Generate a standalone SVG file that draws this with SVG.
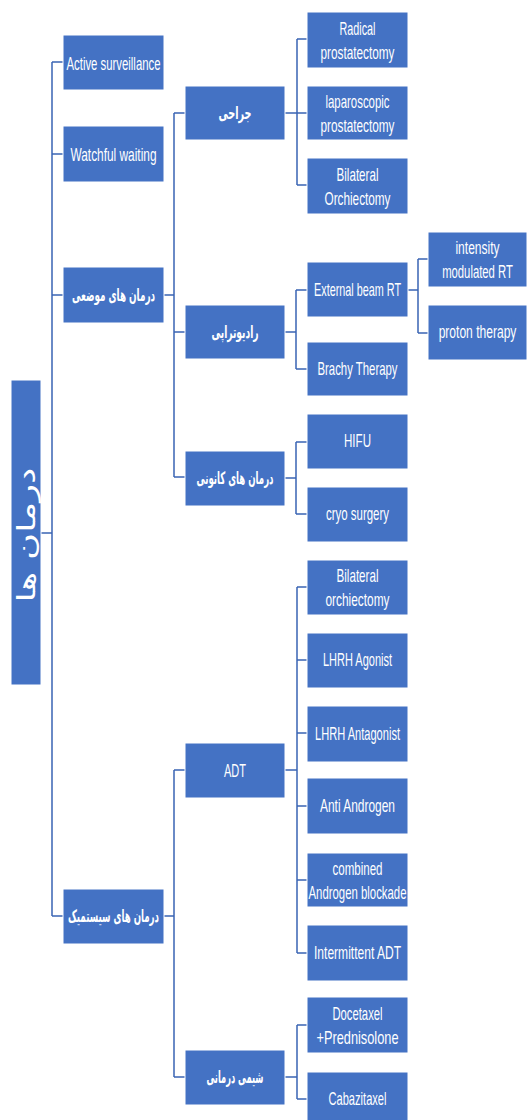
<svg xmlns="http://www.w3.org/2000/svg" width="529" height="1120" viewBox="0 0 529 1120">
<style>
.box{fill:#4472C4;stroke:#ffffff;stroke-width:1}
.t{font-family:"Liberation Sans Narrow","Liberation Sans",Arial,sans-serif;font-size:18.5px;fill:#ffffff;text-anchor:middle}
.ar{font-family:"DejaVu Sans",sans-serif;font-size:17px;font-weight:bold;fill:#ffffff;text-anchor:middle}
.c{stroke:#3A64B4;stroke-width:1.5;fill:none}
</style>
<rect width="529" height="1120" fill="#ffffff"/>
<g id="connectors" class="c">
<path d="M41 533H52M52 62V916M52 62H64M52 154H64M52 295H64M52 916H64"/>
<path d="M163 295H174M174 113V477M174 113H185M174 332H185M174 477H185"/>
<path d="M285 113H297M297 39V185M297 39H307M297 113H307M297 185H307"/>
<path d="M285 332H296M296 290V369M296 290H307M296 369H307"/>
<path d="M408 290H418M418 259V333M418 259H428M418 333H428"/>
<path d="M285 478H296M296 442V514M296 442H307M296 514H307"/>
<path d="M163 916H174M174 770V1077M174 770H185M174 1077H185"/>
<path d="M285 770H297M297 587V953M297 587H307M297 660H307M297 733H307M297 806H307M297 880H307M297 953H307"/>
<path d="M285 1077H297M297 1025V1099M297 1025H307M297 1099H307"/>
</g>
<g id="root"><rect class="box" x="11" y="380" width="30" height="305"/><text class="ar" style="font-size:25px;font-weight:normal" transform="translate(26,535) rotate(-90)" dominant-baseline="central" textLength="135" lengthAdjust="spacingAndGlyphs">درمان ها</text></g>
<g id="active"><rect class="box" x="63" y="35" width="101" height="55"/><text class="t" x="113.5" y="69.5" textLength="94" lengthAdjust="spacingAndGlyphs">Active surveillance</text></g>
<g id="watchful"><rect class="box" x="63" y="126" width="101" height="56"/><text class="t" x="113.5" y="160.5" textLength="86" lengthAdjust="spacingAndGlyphs">Watchful waiting</text></g>
<g id="local"><rect class="box" x="63" y="267" width="101" height="56"/><text class="ar" x="113.5" y="301" textLength="83" lengthAdjust="spacingAndGlyphs">درمان های موضعی</text></g>
<g id="systemic"><rect class="box" x="63" y="889" width="101" height="55"/><text class="ar" x="113.5" y="922" textLength="91" lengthAdjust="spacingAndGlyphs">درمان های سیستمیک</text></g>
<g id="surgery"><rect class="box" x="185" y="86" width="100" height="54"/><text class="ar" x="235" y="119" textLength="33" lengthAdjust="spacingAndGlyphs">جراحی</text></g>
<g id="radiotherapy"><rect class="box" x="185" y="305" width="100" height="54"/><text class="ar" x="235" y="338" textLength="47" lengthAdjust="spacingAndGlyphs">رادیوتراپی</text></g>
<g id="focal"><rect class="box" x="185" y="451" width="100" height="55"/><text class="ar" x="235" y="484" textLength="77" lengthAdjust="spacingAndGlyphs">درمان های کانونی</text></g>
<g id="adt"><rect class="box" x="185" y="743" width="100" height="55"/><text class="t" x="235" y="777" textLength="22" lengthAdjust="spacingAndGlyphs">ADT</text></g>
<g id="chemo"><rect class="box" x="185" y="1050" width="100" height="55"/><text class="ar" x="235" y="1083" textLength="57" lengthAdjust="spacingAndGlyphs">شیمی درمانی</text></g>
<g id="radical"><rect class="box" x="307" y="12" width="101" height="56"/><text class="t" x="357.5" y="35" textLength="36" lengthAdjust="spacingAndGlyphs">Radical</text><text class="t" x="357.5" y="59" textLength="74" lengthAdjust="spacingAndGlyphs">prostatectomy</text></g>
<g id="laparoscopic"><rect class="box" x="307" y="86" width="101" height="54"/><text class="t" x="357.5" y="108" textLength="64" lengthAdjust="spacingAndGlyphs">laparoscopic</text><text class="t" x="357.5" y="132" textLength="74" lengthAdjust="spacingAndGlyphs">prostatectomy</text></g>
<g id="bilateral1"><rect class="box" x="307" y="158" width="101" height="56"/><text class="t" x="357.5" y="181" textLength="42" lengthAdjust="spacingAndGlyphs">Bilateral</text><text class="t" x="357.5" y="205" textLength="66" lengthAdjust="spacingAndGlyphs">Orchiectomy</text></g>
<g id="external"><rect class="box" x="307" y="262" width="101" height="55"/><text class="t" x="357.5" y="296" textLength="87" lengthAdjust="spacingAndGlyphs">External beam RT</text></g>
<g id="brachy"><rect class="box" x="307" y="342" width="101" height="54"/><text class="t" x="357.5" y="375" textLength="80" lengthAdjust="spacingAndGlyphs">Brachy Therapy</text></g>
<g id="hifu"><rect class="box" x="307" y="414" width="101" height="55"/><text class="t" x="357.5" y="447" textLength="27" lengthAdjust="spacingAndGlyphs">HIFU</text></g>
<g id="cryo"><rect class="box" x="307" y="487" width="101" height="55"/><text class="t" x="357.5" y="520" textLength="63" lengthAdjust="spacingAndGlyphs">cryo surgery</text></g>
<g id="bilateral2"><rect class="box" x="307" y="560" width="101" height="55"/><text class="t" x="357.5" y="582" textLength="42" lengthAdjust="spacingAndGlyphs">Bilateral</text><text class="t" x="357.5" y="606" textLength="64" lengthAdjust="spacingAndGlyphs">orchiectomy</text></g>
<g id="lhrh-agonist"><rect class="box" x="307" y="633" width="101" height="55"/><text class="t" x="357.5" y="666" textLength="69" lengthAdjust="spacingAndGlyphs">LHRH Agonist</text></g>
<g id="lhrh-antagonist"><rect class="box" x="307" y="706" width="101" height="56"/><text class="t" x="357.5" y="740" textLength="85" lengthAdjust="spacingAndGlyphs">LHRH Antagonist</text></g>
<g id="anti-androgen"><rect class="box" x="307" y="778" width="101" height="56"/><text class="t" x="357.5" y="812" textLength="75" lengthAdjust="spacingAndGlyphs">Anti Androgen</text></g>
<g id="combined"><rect class="box" x="307" y="853" width="101" height="54"/><text class="t" x="357.5" y="875" textLength="50" lengthAdjust="spacingAndGlyphs">combined</text><text class="t" x="357.5" y="899" textLength="98" lengthAdjust="spacingAndGlyphs">Androgen blockade</text></g>
<g id="intermittent"><rect class="box" x="307" y="925" width="101" height="56"/><text class="t" x="357.5" y="959" textLength="87" lengthAdjust="spacingAndGlyphs">Intermittent ADT</text></g>
<g id="docetaxel"><rect class="box" x="307" y="997" width="101" height="56"/><text class="t" x="357.5" y="1020" textLength="50" lengthAdjust="spacingAndGlyphs">Docetaxel</text><text class="t" x="357.5" y="1044" textLength="82" lengthAdjust="spacingAndGlyphs">+Prednisolone</text></g>
<g id="cabazitaxel"><rect class="box" x="307" y="1072" width="101" height="55"/><text class="t" x="357.5" y="1105" textLength="58" lengthAdjust="spacingAndGlyphs">Cabazitaxel</text></g>
<g id="imrt"><rect class="box" x="428" y="232" width="99" height="55"/><g transform="translate(477.5 0) scale(0.7 1)"><text class="t" x="0" y="254" textLength="63" lengthAdjust="spacingAndGlyphs">intensity</text><text class="t" x="0" y="278" textLength="101" lengthAdjust="spacingAndGlyphs">modulated RT</text></g></g>
<g id="proton"><rect class="box" x="428" y="305" width="99" height="55"/><g transform="translate(477.5 0) scale(0.7 1)"><text class="t" x="0" y="338" textLength="111" lengthAdjust="spacingAndGlyphs">proton therapy</text></g></g>
</svg>
